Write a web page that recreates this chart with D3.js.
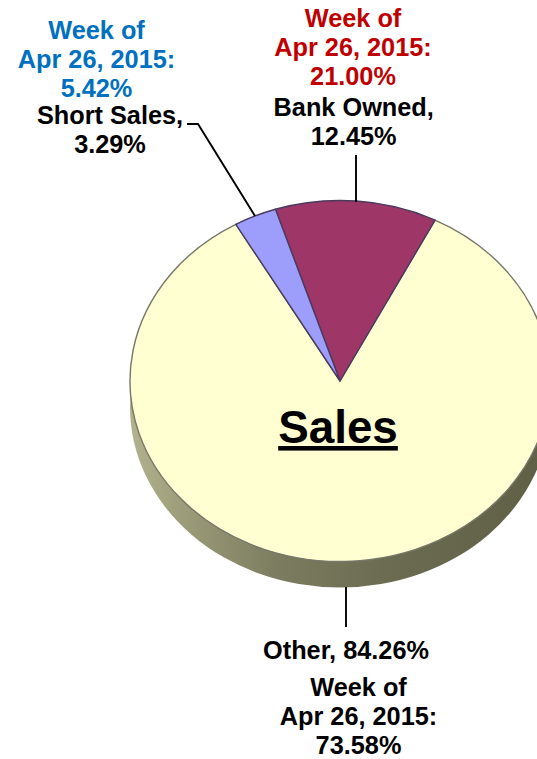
<!DOCTYPE html>
<html>
<head>
<meta charset="utf-8">
<script src="https://d3js.org/d3.v7.min.js"></script>
<style>
    html, body { margin: 0; padding: 0; background: #fff; overflow: hidden; }
    svg { display: block; }
    svg text { font-family: "Liberation Sans", Arial, sans-serif; font-weight: bold; text-anchor: middle; }
</style>
</head>
<body>
<script>
var categories = ["Bank Owned", "Other", "Short Sales"];
var salesValues = [12.45, 84.26, 3.29];
var priorValues = [21.00, 73.58, 5.42];
var sliceColors = ["#9e3768", "#ffffd2", "#9d9dfb"];
var priorColors = ["#c00000", "#000000", "#0070c0"];
var priorLabel = ["Week of", "Apr 26, 2015:"];

var width = 537, height = 759;
var cx = 340, cy = 381, rx = 210, ry = 180.5, depth = 26;
var startAngle = -17.9 * Math.PI / 180;

var svg = d3.select("body").append("svg")
    .attr("width", width)
    .attr("height", height);

// shaded rim of the disc
var grad = svg.append("defs").append("linearGradient")
    .attr("id", "rim")
    .attr("x1", "0").attr("x2", "1").attr("y1", "0").attr("y2", "0");
grad.append("stop").attr("offset", "0%").attr("stop-color", "#b2b28e");
grad.append("stop").attr("offset", "14%").attr("stop-color", "#9a9a78");
grad.append("stop").attr("offset", "35%").attr("stop-color", "#7c7c60");
grad.append("stop").attr("offset", "60%").attr("stop-color", "#6c6c52");
grad.append("stop").attr("offset", "100%").attr("stop-color", "#5f5f45");

svg.append("ellipse")
    .attr("cx", cx).attr("cy", cy + depth)
    .attr("rx", rx).attr("ry", ry)
    .attr("fill", "url(#rim)");

var pie = d3.pie().sort(null)
    .startAngle(startAngle)
    .endAngle(startAngle + 2 * Math.PI);
var arc = d3.arc().innerRadius(0).outerRadius(rx);

var pieGroup = svg.append("g")
    .attr("transform", "translate(" + cx + "," + cy + ") scale(1," + (ry / rx) + ")");

var slices = pieGroup.selectAll("path")
    .data(pie(salesValues))
    .enter()
    .append("path")
    .attr("d", arc)
    .attr("fill", function(d, i) { return sliceColors[i]; })
    .attr("stroke", function(d, i) { return i == 1 ? "#77776a" : "#4a3a5e"; })
    .attr("stroke-width", 1.4)
    .attr("vector-effect", "non-scaling-stroke");

// the small slices keep their dark edges on top of the big one
slices.filter(function(d, i) { return i != 1; }).raise();

var leaders = [
    [[187, 124], [198, 124], [255, 216]],
    [[356, 155], [356, 202]],
    [[346, 587], [346, 627]]
];
var line = d3.line();
svg.selectAll("path.leader")
    .data(leaders)
    .enter()
    .append("path")
    .attr("class", "leader")
    .attr("d", line)
    .attr("fill", "none")
    .attr("stroke", "#000")
    .attr("stroke-width", 1.9);

function fmt(v) { return v.toFixed(2) + "%"; }

// text blocks: lines with their first baseline, centre and colour
var blocks = [
    { x: 96.5, y: 39, color: priorColors[2], lines: priorLabel.concat(fmt(priorValues[2])) },
    { x: 110, y: 124, color: "#000", lines: [categories[2] + ",", fmt(salesValues[2])] },
    { x: 353, y: 27, color: priorColors[0], lines: priorLabel.concat(fmt(priorValues[0])) },
    { x: 353.7, y: 115.7, color: "#000", lines: [categories[0] + ",", fmt(salesValues[0])] },
    { x: 346, y: 658.5, color: "#000", lines: [categories[1] + ", " + fmt(salesValues[1])] },
    { x: 358.5, y: 696, color: priorColors[1], lines: priorLabel.concat(fmt(priorValues[1])) }
];

blocks.forEach(function(b) {
    svg.append("g").selectAll("text")
        .data(b.lines)
        .enter()
        .append("text")
        .attr("x", b.x)
        .attr("y", function(d, i) { return b.y + i * 28.8; })
        .attr("fill", b.color)
        .attr("font-size", 25.3)
        .text(function(d) { return d; });
});

svg.append("text")
    .attr("x", 338)
    .attr("y", 443)
    .attr("font-size", 45.8)
    .attr("text-decoration", "underline")
    .attr("fill", "#000")
    .text("Sales");
</script>
</body>
</html>
